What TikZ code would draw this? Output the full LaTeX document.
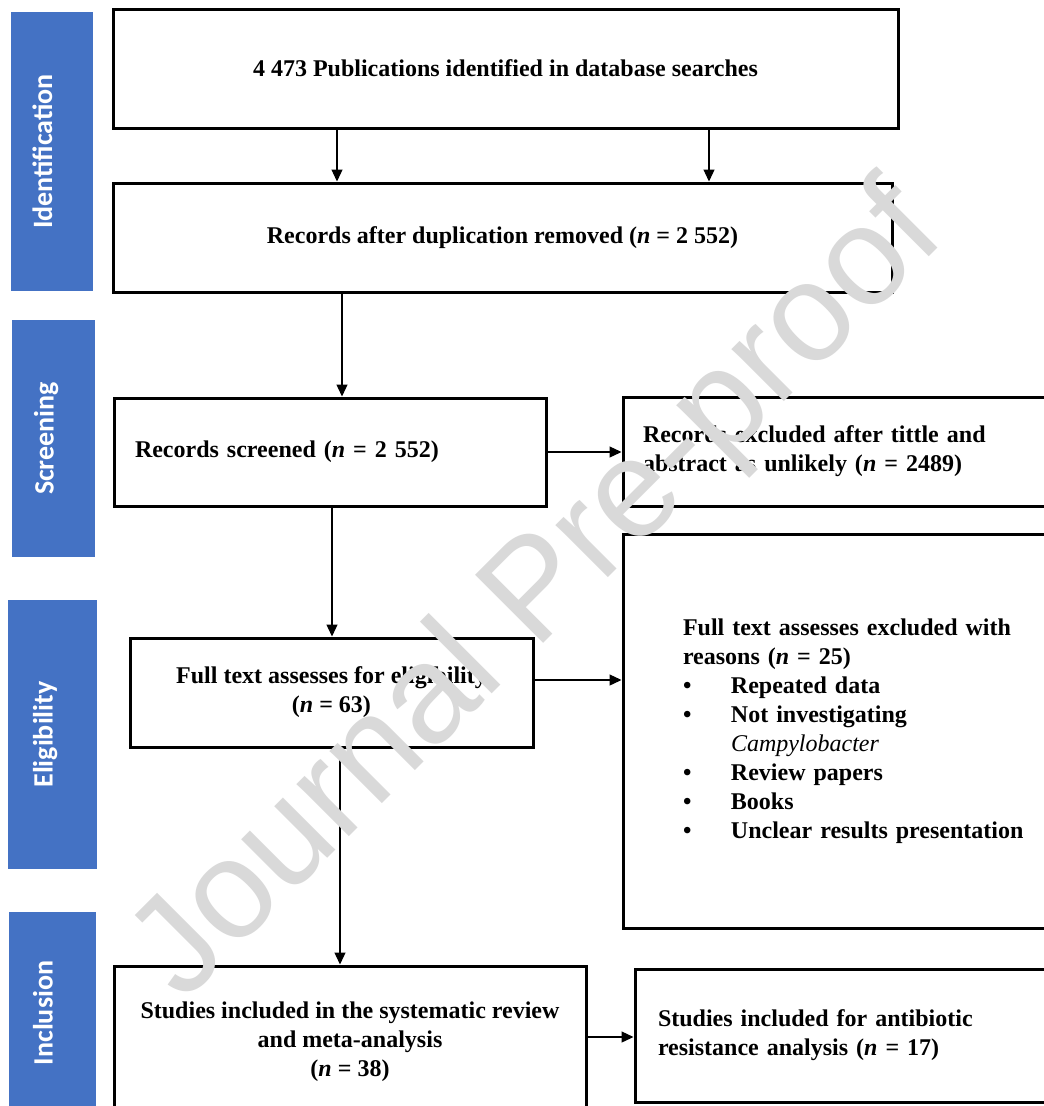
\documentclass[tikz,border=0pt]{standalone}
\usepackage{fontspec}
\setmainfont{Liberation Serif}
\newfontfamily\barFont{Carlito}
\newfontfamily\markFont{Liberation Sans}
\usepackage{tikz}
\usetikzlibrary{arrows.meta}
\definecolor{barBlue}{HTML}{4472C4}
\tikzstyle{pBox} = [rectangle, draw=black, line width=3pt, inner ysep=0pt, font=\bfseries\fontsize{24}{29}\selectfont]
\tikzstyle{pBoxC} = [pBox, align=center]
\tikzstyle{pBoxL} = [pBox, align=left]
\tikzstyle{pBar} = [rectangle, fill=barBlue, draw=none]
\tikzstyle{pBarText} = [rotate=90, anchor=base, text=white, font=\barFont\bfseries\fontsize{28}{28}\selectfont]
\tikzstyle{pMark} = [rotate=45, text=black!15, font=\markFont\fontsize{140}{140}\selectfont]
\tikzstyle{pArrow} = [line width=1.3pt, -{Triangle[length=12pt,width=11pt]}]

\begin{document}
\begin{tikzpicture}[x=1pt, y=-1pt]
    \fill[white] (0,0) rectangle (1044,1106);
    \useasboundingbox (0,0) rectangle (1044,1106);

    % stage bars
    \node (barIdent) [pBar, minimum width=82pt, minimum height=279pt] at (52,151.5) {};
    \node (barScreen) [pBar, minimum width=83pt, minimum height=237pt] at (53.5,438.5) {};
    \node (barElig) [pBar, minimum width=89pt, minimum height=269pt] at (52.5,734.5) {};
    \node (barIncl) [pBar, minimum width=87pt, minimum height=208pt] at (52.5,1016) {};
    \node [pBarText] at (barIdent.center) {Identification};
    \node [pBarText] at (barScreen.center) {Screening};
    \node [pBarText] at (barElig.center) {Eligibility};
    \node [pBarText] at ([yshift=3pt]barIncl.center) {Inclusion};

    % boxes
    \node (pubsFound) [pBoxC, minimum width=785pt, minimum height=119pt] at (505.5,68.5) {4 473 Publications identified in database searches};
    \node (dupRemoved) [pBoxC, minimum width=779pt, minimum height=109pt] at (502.5,237.5) {Records after duplication removed (\textit{n} = 2 552)};
    \node (recScreened) [pBoxL, minimum height=108pt, inner xsep=21pt, text width=390pt] at (330,452) {Records screened (\textit{n} = 2 552)};
    \node (recExcluded) [pBoxL, minimum height=109pt, inner xsep=20pt, text width=437pt] at (861.5,451.5) {Records excluded after tittle and\\abstract as unlikely (\textit{n} = 2489)};
    \node (fullText) [pBoxC, minimum width=403pt, minimum height=109pt] at (331.5,692.5) {Full text assesses for eligibility\\(\textit{n} = 63)};
    \node (fullExcluded) [pBoxL, minimum height=394pt, inner xsep=60pt, text width=357pt] at (861.5,731) {Full text assesses excluded with\\reasons (\textit{n} = 25)\\
        \makebox[48pt][l]{\textbullet}Repeated data\\
        \makebox[48pt][l]{\textbullet}Not investigating\\
        \hspace*{48pt}\textmd{\textit{Campylobacter}}\\
        \makebox[48pt][l]{\textbullet}Review papers\\
        \makebox[48pt][l]{\textbullet}Books\\
        \makebox[48pt][l]{\textbullet}Unclear results presentation};
    \node (studiesIncl) [pBoxC, minimum width=472pt, minimum height=152pt] at (350,1042) {Studies included in the systematic review\\and meta-analysis\\(\textit{n} = 38)};
    \node (studiesAnti) [pBoxL, minimum height=133pt, inner xsep=23pt, text width=419pt] at (867.5,1035.5) {Studies included for antibiotic\\resistance analysis (\textit{n} = 17)};

    % arrow columns and rows
    \coordinate (colA) at (337,0);
    \coordinate (colB) at (709,0);
    \coordinate (colC) at (342,0);
    \coordinate (colD) at (332,0);
    \coordinate (colE) at (340,0);
    \coordinate (rowF) at (0,680);
    \coordinate (rowI) at (0,1037);

    \draw [pArrow] (pubsFound.south -| colA) -- (dupRemoved.north -| colA);
    \draw [pArrow] (pubsFound.south -| colB) -- (dupRemoved.north -| colB);
    \draw [pArrow] (dupRemoved.south -| colC) -- (recScreened.north -| colC);
    \draw [pArrow] (recScreened.east) -- (recExcluded.west |- recScreened.east);
    \draw [pArrow] (recScreened.south -| colD) -- (fullText.north -| colD);
    \draw [pArrow] (fullText.east |- rowF) -- (fullExcluded.west |- rowF);
    \draw [pArrow] (fullText.south -| colE) -- (studiesIncl.north -| colE);
    \draw [pArrow] (studiesIncl.east |- rowI) -- (studiesAnti.west |- rowI);

    % watermark
    \node (wMark) [pMark] at (540,595) {Journal Pre-proof};
\end{tikzpicture}
\end{document}
